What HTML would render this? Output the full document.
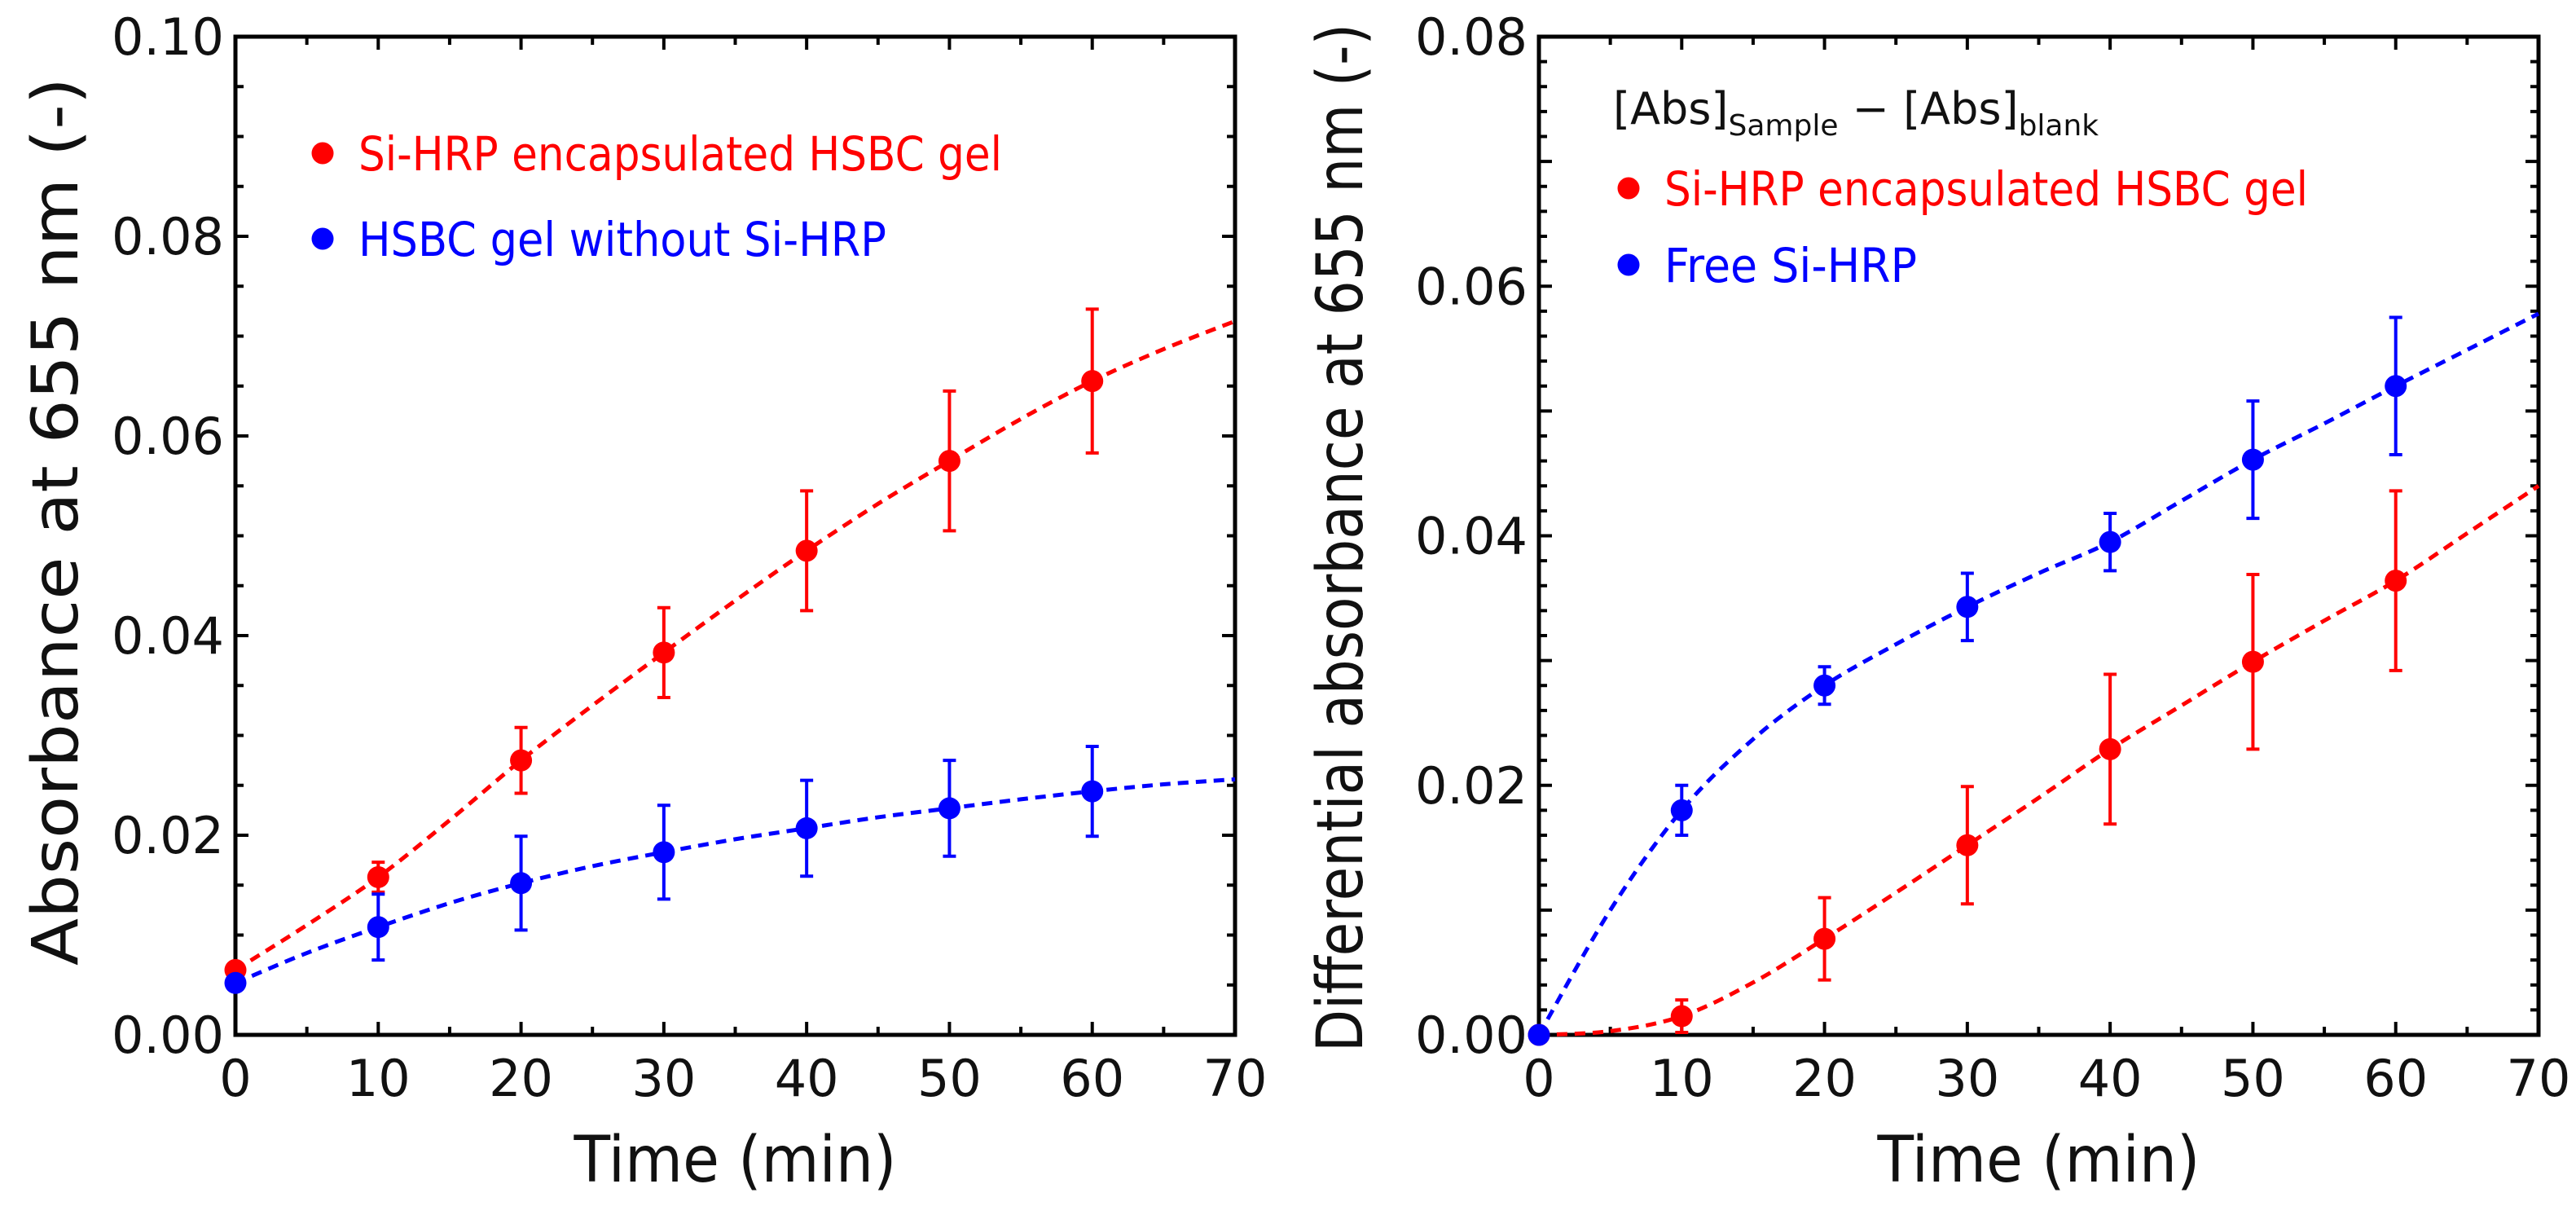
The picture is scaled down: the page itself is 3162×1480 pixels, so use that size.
<!DOCTYPE html>
<html><head><meta charset="utf-8">
<style>
html,body{margin:0;padding:0;background:#fff;}
svg{display:block;font-family:"DejaVu Sans","Liberation Sans",sans-serif;}
</style></head>
<body>
<svg id="fig" width="3162" height="1480" viewBox="0 0 3162 1480" xmlns="http://www.w3.org/2000/svg">
<g id="left"></g>
<g id="right"></g>
</svg>
<script>
// ---------- data ----------
const times = [0, 10, 20, 30, 40, 50, 60];
const fitTimes = [0, 5, 10, 15, 20, 25, 30, 35, 40, 45, 50, 55, 60, 65, 70];
const xTicks = [0, 10, 20, 30, 40, 50, 60, 70];

const leftYTicks = [0.00, 0.02, 0.04, 0.06, 0.08, 0.10];
const leftYTickLabels = ["0.00", "0.02", "0.04", "0.06", "0.08", "0.10"];
const leftRed = [0.0065, 0.0158, 0.0275, 0.0383, 0.0485, 0.0575, 0.0655];
const leftRedErr = [0, 0.0015, 0.0033, 0.0045, 0.006, 0.007, 0.0072];
const leftBlue = [0.0052, 0.0108, 0.0152, 0.0183, 0.0207, 0.0227, 0.0244];
const leftBlueErr = [0, 0.0033, 0.0047, 0.0047, 0.0048, 0.0048, 0.0045];
const leftRedFit = [0.0065, 0.011, 0.0158, 0.0215, 0.0275, 0.033, 0.0383, 0.0435, 0.0485, 0.0532, 0.0575, 0.0617, 0.0655, 0.0687, 0.0715];
const leftBlueFit = [0.0052, 0.0082, 0.0108, 0.0132, 0.0152, 0.0169, 0.0183, 0.0196, 0.0207, 0.0218, 0.0227, 0.0236, 0.0244, 0.0251, 0.0256];

const rightYTicks = [0.00, 0.02, 0.04, 0.06, 0.08];
const rightYTickLabels = ["0.00", "0.02", "0.04", "0.06", "0.08"];
const rightRed = [0, 0.0015, 0.0077, 0.0152, 0.0229, 0.0299, 0.0364];
const rightRedErr = [0, 0.0013, 0.0033, 0.0047, 0.006, 0.007, 0.0072];
const rightBlue = [0, 0.018, 0.028, 0.0343, 0.0395, 0.0461, 0.052];
const rightBlueErr = [0, 0.002, 0.0015, 0.0027, 0.0023, 0.0047, 0.0055];
const rightRedFit = [0, 0.0003, 0.0015, 0.0042, 0.0077, 0.0114, 0.0152, 0.019, 0.0229, 0.0264, 0.0299, 0.0332, 0.0364, 0.0402, 0.044];
const rightBlueFit = [0, 0.0100, 0.018, 0.0237, 0.028, 0.0313, 0.0343, 0.037, 0.0395, 0.0428, 0.0461, 0.049, 0.052, 0.0549, 0.0578];

const NS = "http://www.w3.org/2000/svg";
function mk(parent, tag, attrs, text) {
  const e = document.createElementNS(NS, tag);
  for (const k in attrs) e.setAttribute(k, attrs[k]);
  if (text !== undefined) e.textContent = text;
  parent.appendChild(e);
  return e;
}

function drawChart(g, cfg) {
  const L = cfg.L, R = cfg.R, T = 45, B = 1270;
  const sx = v => L + (v - 0) / 70 * (R - L);
  const sy = v => B - v / cfg.ymax * (B - T);

  for (let t = 0; t <= 70 + 1e-9; t += 5) {
    const major = Math.abs(t % 10) < 1e-9;
    const len = major ? 16 : 10;
    const x = sx(t);
    const tb = mk(g, "line", {x1: x, x2: x, y1: B, y2: B - len, stroke: "#000", "stroke-width": 4});
    
    
    const tt = mk(g, "line", {x1: x, x2: x, y1: T, y2: T + len, stroke: "#000", "stroke-width": 4});
    
    
  }
  const nMinor = Math.round(cfg.ymax / cfg.minor);
  for (let i = 0; i <= nMinor; i++) {
    const v = i * cfg.minor;
    const major = Math.abs((v / cfg.majorTick) - Math.round(v / cfg.majorTick)) < 1e-6;
    const len = major ? 16 : 10;
    const y = sy(v);
    const a = mk(g, "line", {x1: L, x2: L + len, y1: y, y2: y, stroke: "#000", "stroke-width": 4});
    
    
    const b = mk(g, "line", {x1: R, x2: R - len, y1: y, y2: y, stroke: "#000", "stroke-width": 4});
    
    
  }
  const fr = mk(g, "rect", {x: L, y: T, width: R - L, height: B - T, fill: "none", stroke: "#000", "stroke-width": 5});
  
  

  xTicks.forEach(t => {
    const e = mk(g, "text", {x: sx(t), y: 1345, "font-size": 62, "text-anchor": "middle", fill: "#111"}, String(t));
    
    
  });
  cfg.yTicks.forEach((v, i) => {
    const e = mk(g, "text", {x: L - 14, y: sy(v) + 22, "font-size": 62, "text-anchor": "end", fill: "#111"}, cfg.yLabels[i]);
    
    
  });

  const xt = mk(g, "text", {x: (L + R) / 2, y: 1450, "font-size": 78, "text-anchor": "middle", fill: "#111", textLength: 396, lengthAdjust: "spacingAndGlyphs"}, "Time (min)");
  
  
  const yt = mk(g, "text", {x: 0, y: 0, "font-size": 78, "text-anchor": "middle", fill: "#111", textLength: cfg.yTitleLen, lengthAdjust: "spacingAndGlyphs", transform: `translate(${cfg.yTitleX},${cfg.yTitleY}) rotate(-90)`}, cfg.yTitle);
  
  

  cfg.series.forEach(s => {
    const pts = fitTimes.map((t, i) => [sx(t), sy(s.fit[i])]);
    let d = `M${pts[0][0]},${pts[0][1]}`;
    for (let i = 0; i < pts.length - 1; i++) {
      const p0 = pts[Math.max(i - 1, 0)], p1 = pts[i], p2 = pts[i + 1], p3 = pts[Math.min(i + 2, pts.length - 1)];
      const c1 = [p1[0] + (p2[0] - p0[0]) / 6, p1[1] + (p2[1] - p0[1]) / 6];
      const c2 = [p2[0] - (p3[0] - p1[0]) / 6, p2[1] - (p3[1] - p1[1]) / 6];
      d += ` C${c1[0]},${c1[1]} ${c2[0]},${c2[1]} ${p2[0]},${p2[1]}`;
    }
    const fl = mk(g, "path", {d: d, fill: "none", stroke: s.color, "stroke-width": 5, "stroke-dasharray": "13 9"});
    
    
    times.forEach((t, i) => {
      const x = sx(t), y = sy(s.vals[i]), e = s.err[i];
      if (e > 0) {
        const y1 = sy(s.vals[i] + e), y2 = sy(s.vals[i] - e);
        const eb = mk(g, "path", {d: `M${x},${y1}V${y2}M${x - 8},${y1}H${x + 8}M${x - 8},${y2}H${x + 8}`, stroke: s.color, "stroke-width": 4, fill: "none"});
        
        
      }
      const c = mk(g, "circle", {cx: x, cy: y, r: 13.5, fill: s.color});
      
      
    });
  });

  cfg.legend.forEach(l => {
    const c = mk(g, "circle", {cx: l.cx, cy: l.cy, r: 13.5, fill: l.color});
    
    
    const t = mk(g, "text", {x: l.cx + 44, y: l.cy + 21, "font-size": 58, fill: l.color, textLength: l.len, lengthAdjust: "spacingAndGlyphs"}, l.text);
    
    
  });
}

drawChart(document.getElementById("left"), {
  L: 289, R: 1516, ymax: 0.10, minor: 0.005, majorTick: 0.02,
  yTicks: leftYTicks, yLabels: leftYTickLabels,
  yTitle: "Absorbance at 655 nm (-)", yTitleX: 95, yTitleY: 640, yTitleLen: 1090,
  series: [
    {name: "red-series", color: "#ff0000", vals: leftRed, err: leftRedErr, fit: leftRedFit},
    {name: "blue-series", color: "#0000ff", vals: leftBlue, err: leftBlueErr, fit: leftBlueFit}
  ],
  legend: [
    {cx: 396, cy: 188, color: "#ff0000", text: "Si-HRP encapsulated HSBC gel", len: 790},
    {cx: 396, cy: 293, color: "#0000ff", text: "HSBC gel without Si-HRP", len: 648}
  ]
});
drawChart(document.getElementById("right"), {
  L: 1889, R: 3116, ymax: 0.08, minor: 0.002, majorTick: 0.01,
  yTicks: rightYTicks, yLabels: rightYTickLabels,
  yTitle: "Differential absorbance at 655 nm (-)", yTitleX: 1672, yTitleY: 660, yTitleLen: 1262,
  series: [
    {name: "red-series", color: "#ff0000", vals: rightRed, err: rightRedErr, fit: rightRedFit},
    {name: "blue-series", color: "#0000ff", vals: rightBlue, err: rightBlueErr, fit: rightBlueFit}
  ],
  legend: [
    {cx: 1999, cy: 231, color: "#ff0000", text: "Si-HRP encapsulated HSBC gel", len: 790},
    {cx: 1999, cy: 325, color: "#0000ff", text: "Free Si-HRP", len: 310}
  ]
});

(function(){
  const g = document.getElementById("right");
  const t = mk(g, "text", {x: 1980, y: 152, "font-size": 54, fill: "#111"});
  
  
  const parts = [["[Abs]", 54, 0], ["Sample", 36, 14], [" \u2212 ", 54, -14], ["[Abs]", 54, 0], ["blank", 36, 14]];
  parts.forEach(p => {
    mk(t, "tspan", {"font-size": p[1], dy: p[2]}, p[0]);
  });
})();
</script>
</body></html>
